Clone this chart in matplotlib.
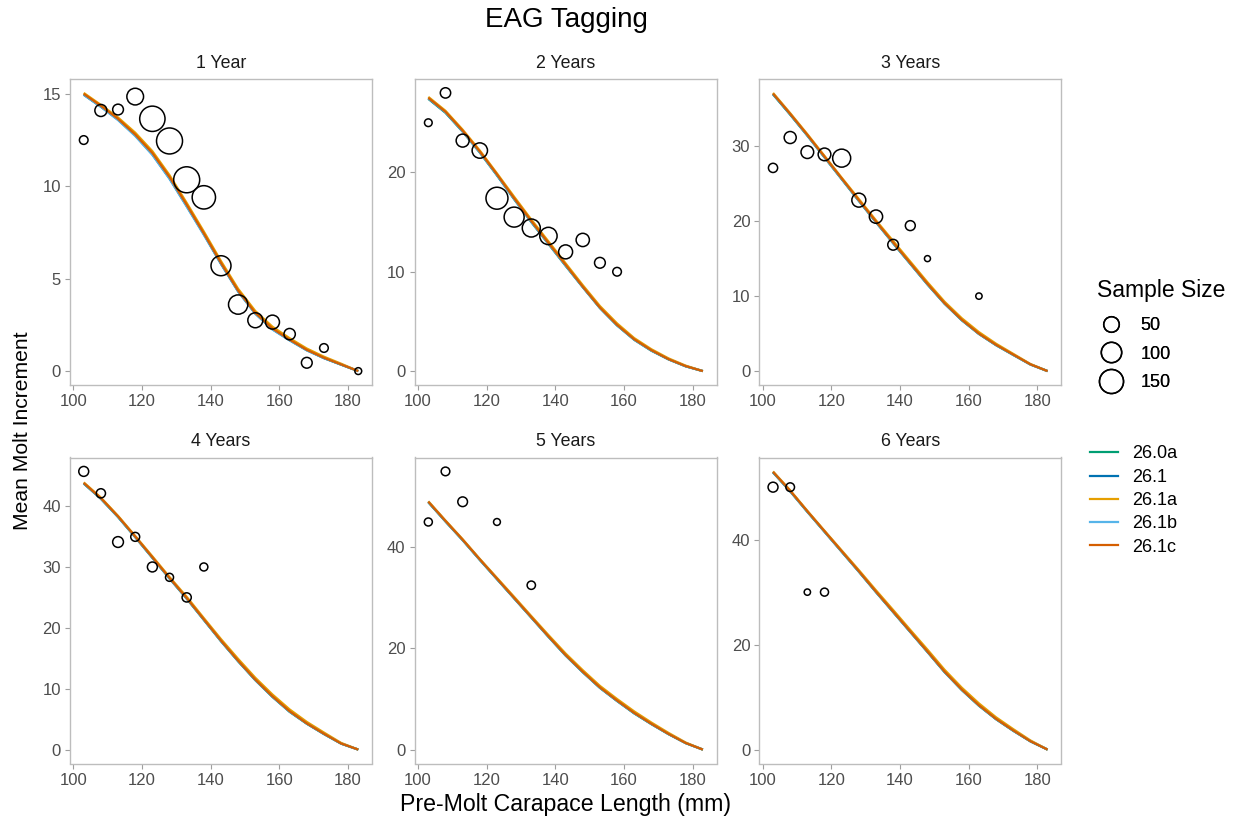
import matplotlib
matplotlib.use("Agg")
import matplotlib.pyplot as plt
from matplotlib.lines import Line2D
import numpy as np

plt.rcParams['font.family'] = ['Liberation Sans', 'DejaVu Sans']

# ---------------- data ----------------
panel_titles = ["1 Year", "2 Years", "3 Years", "4 Years", "5 Years", "6 Years"]
y_ticks = [[0, 5, 10, 15], [0, 10, 20], [0, 10, 20, 30],
           [0, 10, 20, 30, 40], [0, 20, 40], [0, 20, 40]]
x_ticks = [100, 120, 140, 160, 180]

# observed points (pre-molt CL, mean increment, sample size) per panel
obs_cl = [
    [103, 108, 113, 118, 123, 128, 133, 138, 143, 148, 153, 158, 163, 168, 173, 183],
    [103, 108, 113, 118, 123, 128, 133, 138, 143, 148, 153, 158],
    [103, 108, 113, 118, 123, 128, 133, 138, 143, 148, 163],
    [103, 108, 113, 118, 123, 128, 133, 138],
    [103, 108, 113, 123, 133],
    [103, 108, 113, 118],
]
obs_inc = [
    [12.5, 14.1, 14.15, 14.85, 13.65, 12.45, 10.35, 9.4, 5.7, 3.6, 2.75, 2.65, 2.0, 0.45, 1.25, 0.0],
    [25.0, 28.0, 23.2, 22.2, 17.4, 15.5, 14.4, 13.6, 12.0, 13.2, 10.9, 10.0],
    [27.1, 31.15, 29.2, 28.9, 28.4, 22.8, 20.6, 16.85, 19.4, 15.0, 10.0],
    [45.7, 42.1, 34.1, 34.95, 30.0, 28.3, 25.0, 30.0],
    [45.0, 55.0, 49.0, 45.0, 32.5],
    [50.0, 50.0, 30.0, 30.0],
]
obs_n = [
    [8, 24, 17, 60, 169, 180, 180, 139, 95, 87, 45, 37, 20, 17, 8, 3],
    [5, 15, 30, 48, 120, 95, 73, 66, 37, 32, 17, 8],
    [10, 24, 28, 28, 73, 37, 32, 17, 13, 1.5, 2],
    [13, 10, 17, 9, 13, 6, 10, 6],
    [6, 8, 12, 3, 7],
    [13, 8, 2, 6],
]

# model predictions
pred_cl = [103, 108, 113, 118, 123, 128, 133, 138, 143, 148, 153, 158, 163, 168, 173, 178, 183]
models = ["26.0a", "26.1", "26.1a", "26.1b", "26.1c"]
model_colors = ["#009E73", "#0072B2", "#E69F00", "#56B4E9", "#D55E00"]

pred_260a = [
    [14.97, 14.32, 13.62, 12.77, 11.75, 10.45, 8.95, 7.42, 5.82, 4.33, 3.13, 2.28, 1.68, 1.14, 0.71, 0.35, 0.0],
    [27.4, 26.0, 24.1, 22.0, 19.7, 17.3, 15.0, 12.8, 10.6, 8.45, 6.35, 4.6, 3.15, 2.05, 1.18, 0.48, 0.0],
    [36.9, 34.2, 31.4, 28.5, 25.6, 22.7, 19.85, 17.05, 14.3, 11.55, 8.98, 6.78, 4.95, 3.45, 2.15, 0.88, 0.0],
    [43.7, 41.2, 38.2, 34.9, 31.5, 28.1, 24.8, 21.3, 17.8, 14.5, 11.4, 8.65, 6.2, 4.25, 2.55, 0.98, 0.0],
    [48.9, 45.1, 41.4, 37.5, 33.7, 29.9, 26.1, 22.3, 18.6, 15.3, 12.2, 9.6, 7.15, 5.03, 3.05, 1.28, 0.0],
    [52.8, 49.2, 45.3, 41.5, 37.7, 33.9, 30.0, 26.2, 22.4, 18.6, 14.75, 11.35, 8.35, 5.78, 3.58, 1.57, 0.0],
]
pred_261 = [
    [14.95, 14.3, 13.6, 12.75, 11.72, 10.42, 8.93, 7.4, 5.8, 4.31, 3.11, 2.26, 1.67, 1.13, 0.7, 0.35, 0.0],
    [27.45, 26.05, 24.15, 22.05, 19.75, 17.35, 15.05, 12.85, 10.65, 8.48, 6.38, 4.62, 3.18, 2.08, 1.19, 0.49, 0.0],
    [36.95, 34.25, 31.45, 28.55, 25.65, 22.75, 19.9, 17.1, 14.35, 11.6, 9.02, 6.82, 4.98, 3.48, 2.18, 0.89, 0.0],
    [43.75, 41.25, 38.25, 34.95, 31.55, 28.15, 24.85, 21.35, 17.85, 14.56, 11.46, 8.71, 6.26, 4.28, 2.58, 0.99, 0.0],
    [48.95, 45.15, 41.45, 37.55, 33.75, 29.95, 26.15, 22.35, 18.65, 15.35, 12.25, 9.65, 7.21, 5.07, 3.08, 1.29, 0.0],
    [52.85, 49.25, 45.35, 41.55, 37.75, 33.95, 30.05, 26.25, 22.45, 18.65, 14.8, 11.41, 8.41, 5.82, 3.62, 1.59, 0.0],
]
pred_261a = [
    [15.05, 14.4, 13.72, 12.9, 11.9, 10.6, 9.1, 7.55, 5.95, 4.45, 3.25, 2.4, 1.78, 1.22, 0.78, 0.4, 0.0],
    [27.6, 26.2, 24.3, 22.2, 19.9, 17.55, 15.25, 13.05, 10.85, 8.65, 6.55, 4.8, 3.32, 2.2, 1.28, 0.55, 0.0],
    [37.1, 34.4, 31.6, 28.7, 25.8, 22.95, 20.1, 17.35, 14.6, 11.85, 9.25, 7.05, 5.2, 3.65, 2.3, 0.95, 0.0],
    [43.9, 41.4, 38.4, 35.1, 31.75, 28.35, 25.1, 21.6, 18.15, 14.9, 11.8, 9.05, 6.6, 4.55, 2.8, 1.1, 0.0],
    [49.1, 45.3, 41.6, 37.7, 33.95, 30.2, 26.4, 22.65, 19.0, 15.7, 12.6, 10.0, 7.55, 5.35, 3.3, 1.4, 0.0],
    [53.0, 49.4, 45.5, 41.7, 37.95, 34.2, 30.35, 26.6, 22.8, 19.05, 15.2, 11.8, 8.8, 6.15, 3.9, 1.75, 0.0],
]
pred_261b = [
    [14.95, 14.3, 13.58, 12.72, 11.7, 10.4, 8.9, 7.37, 5.8, 4.3, 3.1, 2.25, 1.66, 1.12, 0.7, 0.35, 0.0],
    [27.45, 26.05, 24.12, 22.02, 19.72, 17.32, 15.02, 12.82, 10.62, 8.45, 6.35, 4.6, 3.15, 2.06, 1.18, 0.48, 0.0],
    [36.95, 34.25, 31.42, 28.52, 25.62, 22.72, 19.87, 17.07, 14.32, 11.57, 9.0, 6.8, 4.95, 3.46, 2.16, 0.88, 0.0],
    [43.75, 41.22, 38.22, 34.92, 31.52, 28.12, 24.82, 21.32, 17.82, 14.53, 11.43, 8.68, 6.23, 4.26, 2.56, 0.98, 0.0],
    [48.95, 45.12, 41.42, 37.52, 33.72, 29.92, 26.12, 22.32, 18.62, 15.32, 12.22, 9.62, 7.18, 5.05, 3.06, 1.28, 0.0],
    [52.85, 49.22, 45.32, 41.52, 37.72, 33.92, 30.02, 26.22, 22.42, 18.62, 14.77, 11.38, 8.38, 5.8, 3.6, 1.58, 0.0],
]
pred_261c = [
    [15.0, 14.35, 13.65, 12.8, 11.8, 10.5, 9.0, 7.45, 5.85, 4.35, 3.15, 2.3, 1.7, 1.15, 0.72, 0.36, 0.0],
    [27.5, 26.1, 24.2, 22.1, 19.8, 17.4, 15.1, 12.9, 10.7, 8.5, 6.4, 4.65, 3.2, 2.1, 1.2, 0.5, 0.0],
    [37.0, 34.3, 31.5, 28.6, 25.7, 22.8, 19.95, 17.15, 14.4, 11.65, 9.05, 6.85, 5.0, 3.5, 2.2, 0.9, 0.0],
    [43.8, 41.3, 38.3, 35.0, 31.6, 28.2, 24.9, 21.4, 17.9, 14.6, 11.5, 8.75, 6.3, 4.3, 2.6, 1.0, 0.0],
    [49.0, 45.2, 41.5, 37.6, 33.8, 30.0, 26.2, 22.4, 18.7, 15.4, 12.3, 9.7, 7.25, 5.1, 3.1, 1.3, 0.0],
    [52.9, 49.3, 45.4, 41.6, 37.8, 34.0, 30.1, 26.3, 22.5, 18.7, 14.85, 11.45, 8.45, 5.85, 3.65, 1.6, 0.0],
]
pred_all = [pred_260a, pred_261, pred_261a, pred_261b, pred_261c]

size_breaks = [50, 100, 150]


def marker_diam_pt(n):
    """area-style size scale: diameter in points for a sample size."""
    d_px = 4 + 22 * np.sqrt(np.asarray(n, dtype=float) / 180.0)
    return d_px * 0.72


# ---------------- figure ----------------
fig = plt.figure(figsize=(12.38, 8.24), dpi=100)

lefts = [70 / 1238, 414.6 / 1238, 759.3 / 1238]
bottoms = [1 - 385 / 824, 1 - 763.5 / 824]
w = 302 / 1238
h = 306 / 824

grey_txt = "#4D4D4D"
border = "#BDBDBD"

for i in range(6):
    r, c = divmod(i, 3)
    ax = fig.add_axes([lefts[c], bottoms[r], w, h])
    for m, col in enumerate(model_colors):
        ax.plot(pred_cl, pred_all[m][i], color=col, lw=1.6, solid_joinstyle='round',
                solid_capstyle='butt', zorder=2)
    ax.scatter(obs_cl[i], obs_inc[i], s=marker_diam_pt(obs_n[i]) ** 2,
               facecolors='none', edgecolors='black', linewidths=1.1, zorder=3)
    ax.margins(0.05)
    ax.set_xticks(x_ticks)
    ax.set_yticks(y_ticks[i])
    ax.set_xlim(99, 187)
    ax.tick_params(colors="#9E9E9E", labelcolor=grey_txt, labelsize=12, length=3.5, width=0.8, pad=3)
    for sp in ax.spines.values():
        sp.set_color(border)
        sp.set_linewidth(1.0)
    ax.set_title(panel_titles[i], fontsize=12.8, pad=8.2, color="#1A1A1A")

fig.text(566 / 1238, 1 - 20 / 824, "EAG Tagging", ha='center', va='center', fontsize=20)
fig.text(566 / 1238, 1 - 805 / 824, "Pre-Molt Carapace Length (mm)", ha='center', va='center', fontsize=16.7)
fig.text(23 / 1238, 1 - 431 / 824, "Mean Molt Increment", ha='center', va='center',
         rotation=90, fontsize=15.2)

# size legend
fig.text(1097 / 1238, 1 - 291 / 824, "Sample Size", ha='left', va='center', fontsize=16.5)
size_handles = [Line2D([], [], ls='', marker='o', markerfacecolor='none', markeredgecolor='black',
                       markeredgewidth=1.1, markersize=float(marker_diam_pt(b))) for b in size_breaks]
leg1 = fig.legend(size_handles, [str(b) for b in size_breaks],
                  loc='upper left', bbox_to_anchor=(1097 / 1238, 1 - 317.5 / 824),
                  frameon=False, fontsize=13, labelspacing=0.62, handlelength=1.6,
                  handletextpad=0.8, borderpad=0, borderaxespad=0)

line_handles = [Line2D([], [], color=col, lw=1.6) for col in model_colors]
leg2 = fig.legend(line_handles, models, loc='upper left',
                  bbox_to_anchor=(1090 / 1238, 1 - 445.5 / 824),
                  frameon=False, fontsize=13, labelspacing=0.35, handlelength=1.55,
                  handletextpad=0.8, borderpad=0, borderaxespad=0)
fig.add_artist(leg1)

fig.savefig("out.png", dpi=100)
